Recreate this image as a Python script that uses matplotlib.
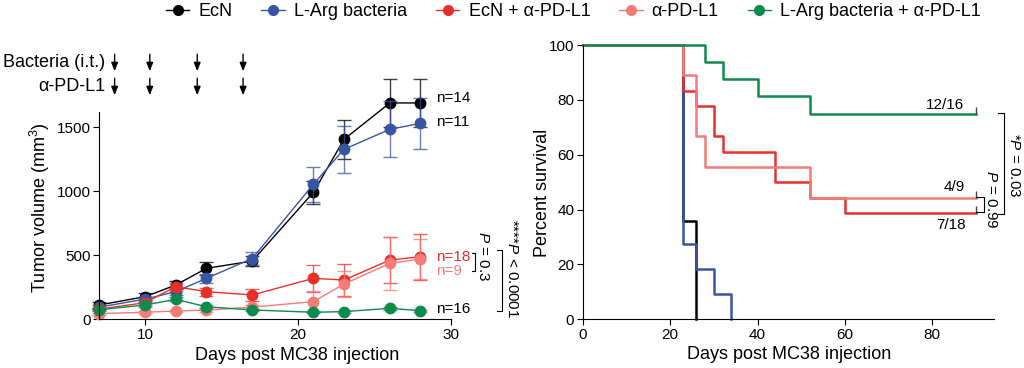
import numpy as np
import matplotlib
matplotlib.use("Agg")
import matplotlib.pyplot as plt
from matplotlib.lines import Line2D
import matplotlib.transforms as mtransforms

plt.rcParams['font.family'] = ['Liberation Sans', 'DejaVu Sans']
plt.rcParams['mathtext.fontset'] = 'custom'
plt.rcParams['mathtext.rm'] = 'Liberation Sans'
plt.rcParams['mathtext.it'] = 'Liberation Sans:italic'

# ----------------------------------------------------------
# data
# ----------------------------------------------------------
groups = ['EcN', 'L-Arg bacteria', 'EcN + α-PD-L1', 'α-PD-L1', 'L-Arg bacteria + α-PD-L1']
colors = ['#000000', '#3a54a4', '#e8302b', '#f27c78', '#0e8a4e']

days = [7, 10, 12, 14, 17, 21, 23, 26, 28]
vol_ecn = [112, 177, 268, 398, 455, 992, 1406, 1690, 1690]
err_ecn = [20, 25, 30, 50, 40, 90, 150, 190, 190]
vol_larg = [95, 158, 216, 320, 475, 1055, 1328, 1484, 1531]
err_larg = [15, 20, 25, 35, 50, 137, 185, 220, 200]
vol_ecn_pd = [80, 130, 255, 216, 190, 320, 307, 463, 489]
err_ecn_pd = [10, 15, 30, 30, 45, 105, 125, 180, 180]
vol_pd = [45, 55, 65, 72, 95, 138, 276, 437, 471]
err_pd = [8, 10, 10, 12, 15, 80, 100, 205, 160]
vol_larg_pd = [75, 112, 156, 98, 73, 55, 60, 86, 67]
err_larg_pd = [8, 12, 15, 12, 10, 8, 8, 10, 8]

n_labels = ['n=14', 'n=11', 'n=18', 'n=9', 'n=16']
n_label_y = [1729, 1541, 487, 377, 80]
n_label_colors = ['#000000', '#000000', '#e8302b', '#f27c78', '#000000']

dose_days = [8, 10.3, 13.4, 16.4]

# Kaplan-Meier steps (time, percent survival)
km_ecn_t = [0, 23, 26]
km_ecn_s = [100, 35.7, 0]
km_larg_t = [0, 23, 26, 30, 34]
km_larg_s = [100, 27.3, 18.2, 9.1, 0]
km_ecn_pd_t = [0, 23, 26, 30, 32, 44, 52, 60, 90]
km_ecn_pd_s = [100, 83.3, 77.8, 66.7, 61.1, 50.0, 44.4, 38.9, 38.9]
km_pd_t = [0, 23, 26, 28, 52, 90]
km_pd_s = [100, 88.9, 66.7, 55.6, 44.4, 44.4]
km_larg_pd_t = [0, 28, 32, 40, 52, 90]
km_larg_pd_s = [100, 93.75, 87.5, 81.25, 75.0, 75.0]

surv_labels = ['12/16', '4/9', '7/18']
surv_label_x = [83, 85, 84.2]
surv_label_y = [78, 48.3, 34.4]

# ----------------------------------------------------------
# figure
# ----------------------------------------------------------
fig = plt.figure(figsize=(10.24, 3.68), dpi=100)
ax1 = fig.add_axes([0.097, 0.1323, 0.3435, 0.661])
ax2 = fig.add_axes([0.569, 0.1323, 0.4017, 0.7454])

vols = [vol_ecn, vol_larg, vol_ecn_pd, vol_pd, vol_larg_pd]
errs = [err_ecn, err_larg, err_ecn_pd, err_pd, err_larg_pd]
for v, e, c in zip(vols, errs, colors):
    ax1.errorbar(days, v, yerr=e, fmt='none', ecolor=c, alpha=0.75,
                 elinewidth=1.0, capsize=5, capthick=1.0, clip_on=False)
    ax1.plot(days, v, '-o', color=c, lw=1.0, ms=7.5, clip_on=False)

ax1.set_xlim(7, 30)
ax1.set_ylim(0, 1900)
ax1.set_xticks([10, 20, 30])
ax1.set_yticks([0, 500, 1000, 1500])
ax1.spines['left'].set_bounds(0, 1620)
ax1.set_xlabel('Days post MC38 injection', fontsize=13, va='center')
ax1.xaxis.set_label_coords(0.562, -0.147)
ax1.set_ylabel('Tumor volume (mm$^3$)', fontsize=13, va='center')
ax1.yaxis.set_label_coords(-0.169, 0.46)

for lab, y, c in zip(n_labels, n_label_y, n_label_colors):
    ax1.text(29.0, y, lab, color=c, fontsize=11, va='center', clip_on=False)

# stats brackets (left)
ax1.plot([31.36, 31.57, 31.57, 31.36], [520, 520, 380, 380], color='k', lw=0.8, clip_on=False)
ax1.text(32.1, 494, '$\\it{P}$ = 0.3', rotation=-90, fontsize=11, ha='center', va='center')
ax1.plot([33.0, 33.3, 33.3, 33.0], [541, 541, 65, 65], color='k', lw=0.8, clip_on=False)
ax1.text(33.97, 400, '****$\\it{P}$ < 0.0001', rotation=-90, fontsize=11, ha='center', va='center')

# dosing arrows
trans = mtransforms.blended_transform_factory(ax1.transData, fig.transFigure)
fig.text(105 / 1024, 1 - 62.7 / 368, 'Bacteria (i.t.)', fontsize=13, ha='right', va='center')
fig.text(105 / 1024, 1 - 86.7 / 368, 'α-PD-L1', fontsize=13, ha='right', va='center')
for d in dose_days:
    for yy in [62.7, 86.7]:
        ax1.annotate('', xy=(d, 1 - (yy + 8.5) / 368), xytext=(d, 1 - (yy - 8.5) / 368),
                     xycoords=trans, textcoords=trans,
                     arrowprops=dict(arrowstyle='-|>,head_length=0.5,head_width=0.2',
                                     color='k', lw=1.0, shrinkA=0, shrinkB=0))

# survival
km_t = [km_ecn_t, km_larg_t, km_ecn_pd_t, km_pd_t, km_larg_pd_t]
km_s = [km_ecn_s, km_larg_s, km_ecn_pd_s, km_pd_s, km_larg_pd_s]
for t, s, c in zip(km_t, km_s, colors):
    ax2.step(t, s, where='post', color=c, lw=1.8, clip_on=False)
    if t[-1] == 90:
        ax2.vlines(t[-1], s[-1], s[-1] + 2.3, color='#444444', lw=1.0, clip_on=False)

ax2.set_xlim(0, 94.1)
ax2.set_ylim(0, 100)
ax2.set_xticks([0, 20, 40, 60, 80])
ax2.set_yticks([0, 20, 40, 60, 80, 100])
ax2.set_xlabel('Days post MC38 injection', fontsize=13, va='center')
ax2.xaxis.set_label_coords(0.503, -0.130)
ax2.set_ylabel('Percent survival', fontsize=13, va='center')
ax2.yaxis.set_label_coords(-0.0965, 0.46)

for lab, x, y in zip(surv_labels, surv_label_x, surv_label_y):
    ax2.text(x, y, lab, fontsize=11, ha='center', va='center')

ax2.plot([89.9, 91.7, 91.7, 89.9], [44.5, 44.5, 39, 39], color='k', lw=0.8, clip_on=False)
ax2.text(93.4, 43.9, '$\\it{P}$ = 0.99', rotation=-90, fontsize=11, ha='center', va='center')
ax2.plot([95.1, 96.4, 96.4, 95.1], [75.3, 75.3, 38.4, 38.4], color='k', lw=0.8, clip_on=False)
ax2.text(98.7, 56, '*$\\it{P}$ = 0.03', rotation=-90, fontsize=11, ha='center', va='center')

for ax in [ax1, ax2]:
    ax.spines['top'].set_visible(False)
    ax.spines['right'].set_visible(False)
    ax.tick_params(labelsize=11, length=4, width=0.8, pad=2)

handles = [Line2D([0], [0], color=c, lw=1.0, marker='o', ms=7) for c in colors]
fig.legend(handles, groups, loc='center', bbox_to_anchor=(0.56, 1 - 12 / 368), ncol=5,
           frameon=False, fontsize=13, handlelength=1.3, handletextpad=0.5, columnspacing=1.6)

fig.savefig('out.png', dpi=100)
